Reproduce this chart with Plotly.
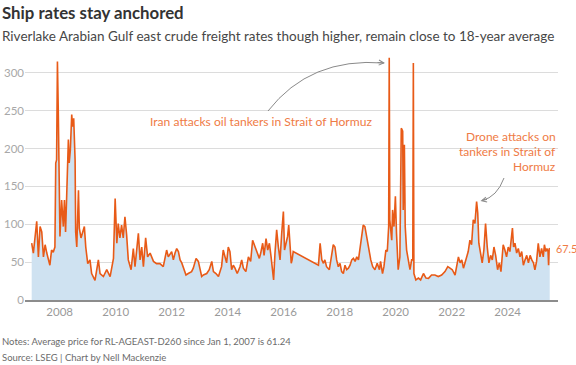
import pandas as pd
import plotly.graph_objects as go

# ---------------- data ----------------
decimal_years = [
    2007.00, 2007.06, 2007.18, 2007.24, 2007.30, 2007.36, 2007.42, 2007.48, 2007.54, 2007.60,
    2007.65, 2007.71, 2007.77, 2007.83, 2007.86, 2007.89, 2007.92, 2007.95, 2007.98, 2008.01,
    2008.07, 2008.13, 2008.17, 2008.21, 2008.25, 2008.29, 2008.31, 2008.34, 2008.38, 2008.43,
    2008.46, 2008.50, 2008.55, 2008.57, 2008.61, 2008.67, 2008.70, 2008.76, 2008.81, 2008.88,
    2008.93, 2009.00, 2009.08, 2009.14, 2009.26, 2009.38, 2009.44, 2009.56, 2009.68, 2009.80,
    2009.92, 2009.98, 2010.04, 2010.09, 2010.15, 2010.21, 2010.27, 2010.33, 2010.39, 2010.45,
    2010.55, 2010.63, 2010.69, 2010.81, 2010.87, 2010.93, 2010.99, 2011.07, 2011.14, 2011.23,
    2011.35, 2011.46, 2011.58, 2011.70,
    2011.82, 2011.88, 2012.00, 2012.06, 2012.12, 2012.18, 2012.24, 2012.30, 2012.36, 2012.44,
    2012.51, 2012.59, 2012.71, 2012.77, 2012.87, 2012.95, 2013.01, 2013.07, 2013.13, 2013.25,
    2013.34, 2013.43, 2013.49, 2013.58, 2013.67, 2013.78, 2013.84, 2013.90, 2013.96, 2014.02,
    2014.08, 2014.14, 2014.20, 2014.26, 2014.34, 2014.44, 2014.50, 2014.56, 2014.65, 2014.74,
    2014.82, 2014.89, 2014.98, 2015.06, 2015.13, 2015.18, 2015.25, 2015.30, 2015.37, 2015.43,
    2015.49, 2015.55, 2015.61, 2015.64, 2015.69, 2015.75, 2015.81, 2015.87, 2015.93, 2015.99,
    2016.03, 2016.08, 2016.14, 2016.18, 2016.23, 2016.27, 2016.30, 2016.34,
    2017.24, 2017.30, 2017.36, 2017.42, 2017.47, 2017.53, 2017.63, 2017.71, 2017.77, 2017.83,
    2017.89, 2017.95, 2018.01, 2018.07, 2018.13, 2018.19, 2018.25, 2018.31, 2018.37, 2018.43,
    2018.49, 2018.55, 2018.61, 2018.67, 2018.72, 2018.78, 2018.84, 2018.90, 2018.94, 2018.99,
    2019.06, 2019.11, 2019.18, 2019.26, 2019.34, 2019.42, 2019.46, 2019.53, 2019.58, 2019.65,
    2019.70, 2019.75, 2019.77, 2019.79, 2019.86, 2019.89, 2019.94, 2019.99, 2020.03, 2020.09,
    2020.15, 2020.20, 2020.25, 2020.27, 2020.31, 2020.34, 2020.39, 2020.45, 2020.51, 2020.57,
    2020.61, 2020.63, 2020.65, 2020.72, 2020.81, 2020.89, 2020.99, 2021.08,
    2021.17, 2021.28, 2021.40, 2021.52, 2021.64, 2021.76, 2021.86, 2021.94, 2022.02, 2022.12,
    2022.18, 2022.24, 2022.30, 2022.36, 2022.42, 2022.47, 2022.53, 2022.59, 2022.65, 2022.71,
    2022.77, 2022.83, 2022.89, 2022.93, 2022.97, 2023.03, 2023.09, 2023.15, 2023.21, 2023.27,
    2023.33, 2023.39, 2023.45, 2023.51, 2023.57, 2023.64, 2023.70, 2023.76, 2023.84, 2023.90,
    2023.96, 2024.02, 2024.08, 2024.17, 2024.21, 2024.26, 2024.32, 2024.38, 2024.44, 2024.50,
    2024.56, 2024.62, 2024.68, 2024.74, 2024.80, 2024.86, 2024.92, 2024.97, 2025.03, 2025.09,
    2025.15, 2025.21, 2025.27, 2025.31, 2025.36, 2025.40, 2025.44, 2025.46, 2025.48, 2025.50,
]
rates = [
    75, 62, 104, 57, 97, 90, 57, 73, 62, 53,
    46, 66, 63, 70, 181, 185, 315, 251, 132, 84,
    132, 97, 132, 90, 137, 185, 212, 181, 198, 245,
    229, 240, 185, 90, 70, 145, 95, 82, 90, 97,
    70, 48, 53, 35, 26, 53, 35, 31, 40, 31,
    55, 134, 75, 101, 82, 99, 82, 110, 86, 53,
    40, 68, 44, 88, 53, 70, 44, 82, 57, 62,
    51, 48, 48, 44,
    66, 57, 64, 53, 62, 68, 64, 53, 49, 40,
    33, 35, 37.5, 42, 55, 51, 40, 31, 33, 35,
    40, 51, 37.5, 35, 31, 44, 66, 57, 49, 70,
    64, 40, 46, 42, 35, 44, 53, 42, 37.5, 57,
    51, 79, 70, 62, 55, 62, 75, 59, 81, 66,
    75, 57, 40, 26.4, 62, 92.6, 70, 53, 88, 116.8,
    66, 75, 84, 99, 66, 48.5, 53, 64,
    46, 75, 53, 48.5, 53, 44, 40, 57, 73, 70,
    53, 44, 48.5, 37.5, 35, 46, 40, 42, 46, 53,
    55, 51, 57, 53, 66, 84, 99, 97, 88, 79,
    62, 53, 44, 40, 48.5, 40, 51, 35, 44, 66,
    64, 97, 320, 106, 79, 119, 97, 137, 88, 40,
    57, 227, 223, 119, 205, 97, 66, 53, 40, 53,
    53, 313, 35, 26.5, 29, 26.5, 35, 29,
    28.6, 33, 33, 31, 33, 37.5, 44, 42, 40, 33,
    46, 57, 49, 53, 42, 49, 57, 64, 79, 73,
    106, 101, 130, 115, 75, 62, 49, 66, 101, 70,
    49, 59, 53, 70, 59, 40, 49, 37.5, 73, 66,
    57, 70, 64, 95, 70, 75, 62, 68, 57, 64,
    46, 53, 59, 49, 59, 53, 49, 40, 51, 75,
    57, 68, 57, 73, 64, 68, 64, 46, 68, 67.5,
]
x_tick_years = [2008, 2010, 2012, 2014, 2016, 2018, 2020, 2022, 2024]
x_tick_labels = [str(y) for y in x_tick_years]
y_tick_values = [0, 50, 100, 150, 200, 250, 300]
y_tick_labels = [str(v) for v in y_tick_values]
last_label = "67.5"
drone_lines = ["Drone attacks on", "tankers in Strait of", "Hormuz"]

# ---------------- helpers ----------------
def to_date(y):
    yr = int(y)
    frac = y - yr
    start = pd.Timestamp(year=yr, month=1, day=1)
    end = pd.Timestamp(year=yr + 1, month=1, day=1)
    return start + (end - start) * frac

dates = [to_date(y) for y in decimal_years]

W, H = 576, 365
L, R, T, B = 25, 18, 54, 65
PW, PH = W - L - R, H - T - B

def px(xp):  # pixel -> paper x
    return (xp - L) / PW

def py(yp):  # pixel -> paper y
    return (H - B - yp) / PH

LINE = "#e85a17"
FILL = "#cfe2f1"
ANN = "#ef7b45"
FONT = "Lato"

fig = go.Figure()
fig.add_trace(go.Scatter(
    x=dates, y=rates, mode="lines",
    line=dict(color=LINE, width=1.6),
    fill="tozeroy", fillcolor=FILL,
    hoverinfo="skip", showlegend=False,
))

fig.update_layout(
    width=W, height=H,
    margin=dict(l=L, r=R, t=T, b=B, autoexpand=False),
    paper_bgcolor="white", plot_bgcolor="white",
    font=dict(family=FONT, color="#999999", size=11),
    xaxis=dict(
        type="date", automargin=False,
        range=[to_date(2006.761), to_date(2025.796)],
        tickvals=[to_date(y) for y in x_tick_years],
        ticktext=x_tick_labels,
        showgrid=False, zeroline=False,
        showline=True, linecolor="#8c8c8c", linewidth=1.5,
        ticks="", tickfont=dict(size=11.5, color="#9a9a9a"),
    ),
    yaxis=dict(
        range=[0, 325], automargin=False,
        tickvals=y_tick_values, ticktext=y_tick_labels,
        showgrid=True, gridcolor="#dcdcdc", gridwidth=1,
        zeroline=False, showline=False, ticks="",
        tickfont=dict(size=11.5, color="#a8a8a8"),
    ),
)

# title & subtitle
fig.add_annotation(text="<b>Ship rates stay anchored</b>", xref="paper", yref="paper",
                   x=px(0), y=py(13), xanchor="left", yanchor="middle", showarrow=False,
                   font=dict(size=16.8, color="#333333", family=FONT))
fig.add_annotation(text="Riverlake Arabian Gulf east crude freight rates though higher, remain close to 18-year average",
                   xref="paper", yref="paper", x=px(0), y=py(36), xanchor="left", yanchor="middle",
                   showarrow=False, font=dict(size=13.5, color="#474747", family=FONT))

# footnotes
fig.add_annotation(text="Notes: Average price for RL-AGEAST-D260 since Jan 1, 2007 is 61.24",
                   xref="paper", yref="paper", x=px(0), y=py(341), xanchor="left", yanchor="middle",
                   showarrow=False, font=dict(size=9.5, color="#6b6b6b", family=FONT))
fig.add_annotation(text="Source: LSEG | Chart by Nell Mackenzie",
                   xref="paper", yref="paper", x=px(0), y=py(357), xanchor="left", yanchor="middle",
                   showarrow=False, font=dict(size=9.5, color="#6b6b6b", family=FONT))

# annotation 1
fig.add_annotation(text="Iran attacks oil tankers in Strait of Hormuz", xref="paper", yref="paper",
                   x=px(261), y=py(122), xanchor="center", yanchor="middle", showarrow=False,
                   font=dict(size=12.1, color=ANN, family=FONT))
fig.add_shape(type="path", xref="paper", yref="paper",
              path=f"M {px(268)},{py(111)} Q {px(310)},{py(57)} {px(384)},{py(63)}",
              line=dict(color="#8a8a8a", width=1))
fig.add_annotation(text="", xref="paper", yref="paper", x=px(385), y=py(63), ax=-9, ay=-0.6,
                   showarrow=True, arrowhead=5, arrowsize=1, arrowwidth=1, arrowcolor="#8a8a8a")

# annotation 2 (three lines, tighter spacing)
for i, line_text in enumerate(drone_lines):
    fig.add_annotation(text=line_text, xref="paper", yref="paper",
                       x=px(558), y=py(136 + 15 * i), xanchor="right", yanchor="middle",
                       showarrow=False, font=dict(size=12, color=ANN, family=FONT))
fig.add_shape(type="path", xref="paper", yref="paper",
              path=f"M {px(504)},{py(178)} Q {px(497)},{py(197)} {px(482)},{py(200.5)}",
              line=dict(color="#8a8a8a", width=1))
fig.add_annotation(text="", xref="paper", yref="paper", x=px(480.5), y=py(201), ax=8, ay=-2,
                   showarrow=True, arrowhead=5, arrowsize=1, arrowwidth=1, arrowcolor="#8a8a8a")

# last value label
fig.add_annotation(text=last_label, x=dates[-1], y=rates[-1], xref="x", yref="y",
                   xanchor="left", yanchor="middle", xshift=4, showarrow=False,
                   font=dict(size=10.8, color=ANN, family=FONT))

fig.write_html("out.html", config={"displayModeBar": False},
               post_script="document.body.style.margin='0px';")
